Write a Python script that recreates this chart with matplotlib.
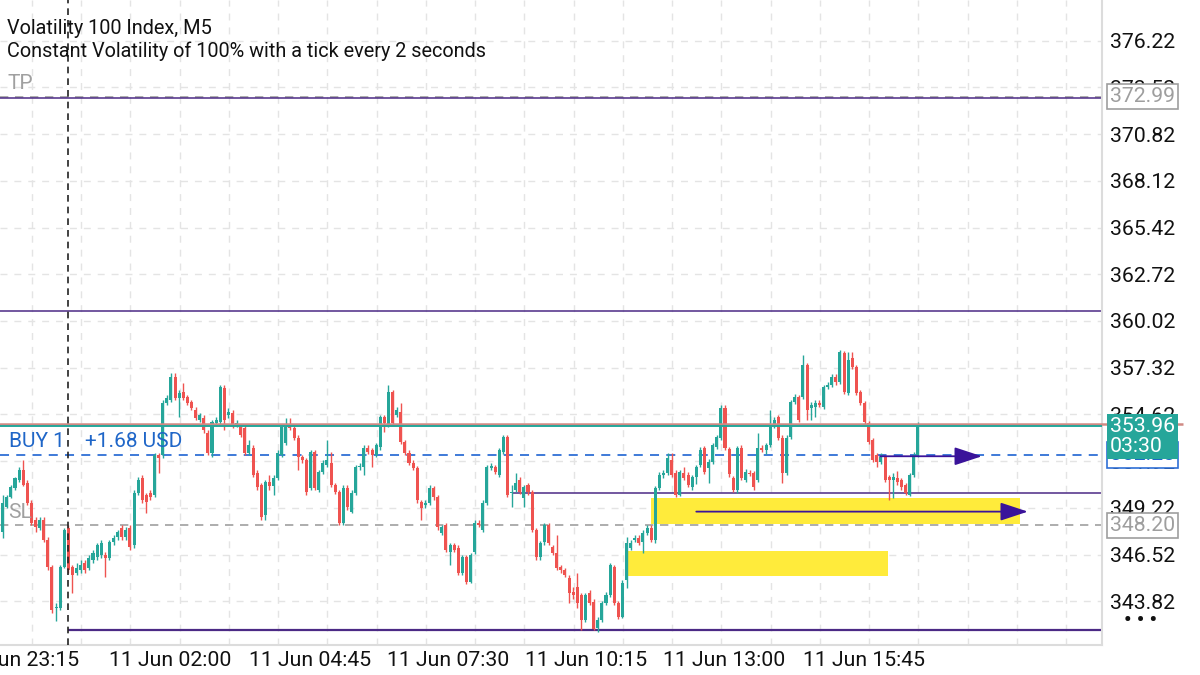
import numpy as np
import matplotlib
matplotlib.use("Agg")
import matplotlib.pyplot as plt
import matplotlib.transforms as mtransforms

plt.rcParams['font.family'] = ['Roboto', 'DejaVu Sans']

# ---- data (Volatility 100 Index, M5 candles) ----
opens = [
    347.82, 349.27, 349.84, 350.37, 350.83, 351.40, 350.66, 349.50, 348.51, 348.05,
    348.51, 347.36, 345.80, 343.43, 343.43, 345.80, 348.05, 345.80, 345.45, 345.62,
    346.03, 345.74, 346.20, 346.38, 346.49, 346.49, 346.32, 347.24, 347.53, 348.05,
    347.53, 348.05, 347.07, 350.08, 350.94, 349.96, 350.08, 349.96, 352.27, 352.27,
    355.28, 355.45, 356.78, 355.57, 355.92, 355.63, 355.34, 354.87, 354.30, 354.41,
    353.54, 352.39, 354.12, 354.18, 356.15, 354.59, 354.70, 354.01, 353.89, 353.83,
    352.39, 352.68, 351.23, 350.54, 348.80, 350.71, 350.48, 350.94, 352.27, 352.97,
    353.89, 353.83, 353.26, 352.16, 351.98, 350.37, 352.45, 350.25, 351.29, 351.69,
    351.81, 350.54, 350.13, 348.34, 350.37, 348.98, 350.08, 351.58, 351.58, 352.68,
    352.56, 352.27, 352.74, 354.47, 354.01, 355.92, 354.59, 354.76, 353.03, 352.39,
    351.81, 351.52, 349.56, 349.38, 349.50, 350.37, 349.84, 347.76, 348.23, 346.67,
    347.07, 346.90, 345.45, 346.38, 344.93, 346.67, 348.34, 347.94, 349.50, 351.52,
    351.58, 351.12, 352.45, 353.31, 350.08, 350.25, 350.83, 349.79, 350.54, 350.13,
    347.94, 346.38, 347.24, 348.23, 346.95, 346.61, 345.80, 345.62, 345.16, 344.35,
    344.64, 344.18, 342.74, 344.30, 343.78, 342.27, 342.74, 343.72, 344.18, 345.80,
    343.72, 342.91, 345.05, 346.90, 347.36, 347.47, 347.24, 347.76, 348.05, 347.36,
    350.37, 351.12, 351.23, 351.98, 351.23, 349.96, 351.23, 351.12, 350.42, 351.00,
    351.69, 352.68, 351.52, 351.87, 352.74, 353.26, 354.99, 352.62, 350.94, 350.25,
    352.68, 350.83, 351.23, 351.23, 350.83, 352.68, 352.56, 352.85, 353.95, 354.47,
    353.26, 351.23, 353.31, 355.34, 355.63, 355.63, 357.47, 354.99, 355.05, 355.28,
    355.05, 356.20, 356.32, 356.78, 356.49, 358.17, 355.86, 357.88, 357.36, 355.92,
    355.28, 354.12, 353.14, 352.27, 351.87, 352.16, 351.00, 350.83, 350.94, 350.83,
    350.54, 349.96, 351.12, 352.27,
]
highs = [
    349.96, 349.96, 350.54, 351.00, 351.58, 351.98, 350.83, 349.67, 348.69, 348.69,
    348.69, 347.53, 345.91, 343.72, 345.91, 348.05, 348.23, 345.91, 346.03, 346.20,
    346.20, 346.49, 346.78, 347.19, 347.36, 346.67, 347.36, 347.65, 347.94, 348.23,
    348.11, 348.23, 350.25, 351.00, 351.12, 350.08, 350.25, 352.39, 352.39, 355.45,
    355.74, 357.01, 357.01, 356.03, 356.43, 355.74, 355.45, 355.05, 354.70, 354.59,
    353.72, 354.30, 354.47, 356.32, 356.32, 354.99, 354.87, 354.30, 354.07, 354.01,
    353.14, 352.85, 351.40, 350.66, 350.83, 351.12, 351.12, 352.56, 354.01, 354.41,
    354.41, 354.07, 353.43, 352.27, 352.10, 352.56, 352.56, 351.40, 351.98, 353.14,
    352.45, 350.66, 350.25, 350.54, 350.54, 350.25, 351.69, 351.81, 352.85, 352.85,
    352.68, 352.97, 354.59, 354.59, 356.32, 356.03, 355.05, 355.28, 353.14, 352.56,
    351.98, 351.64, 349.67, 349.67, 350.54, 350.48, 349.96, 348.23, 348.34, 347.19,
    347.19, 347.07, 346.49, 346.49, 346.61, 348.51, 348.51, 349.67, 351.69, 351.81,
    351.69, 352.68, 353.43, 353.43, 350.54, 351.23, 351.00, 350.54, 350.66, 350.25,
    348.05, 347.30, 348.34, 348.34, 347.07, 347.65, 345.91, 345.74, 345.34, 344.64,
    345.45, 344.30, 344.30, 344.47, 343.95, 342.91, 343.84, 344.35, 346.03, 345.91,
    343.84, 345.05, 347.53, 347.36, 347.65, 347.65, 347.94, 348.23, 348.23, 350.48,
    351.29, 351.40, 352.39, 352.39, 351.40, 351.40, 351.58, 351.29, 351.12, 351.69,
    352.74, 352.80, 352.04, 352.97, 353.43, 355.16, 355.16, 352.74, 351.06, 352.80,
    352.85, 351.46, 351.40, 351.35, 353.54, 352.85, 352.97, 354.87, 354.47, 354.59,
    353.43, 353.43, 355.45, 355.80, 355.74, 358.05, 357.59, 355.34, 355.45, 355.45,
    356.32, 356.49, 356.95, 356.95, 358.34, 358.28, 358.22, 358.22, 357.47, 356.03,
    355.40, 354.24, 353.26, 352.39, 352.39, 352.27, 351.12, 351.23, 351.35, 350.94,
    350.66, 351.23, 352.45, 354.18,
]
lows = [
    347.47, 349.21, 349.79, 350.25, 350.71, 350.48, 349.38, 348.23, 347.82, 347.94,
    347.24, 345.62, 343.14, 342.65, 343.32, 345.74, 345.45, 344.30, 345.34, 345.45,
    345.45, 345.62, 346.03, 346.20, 346.32, 345.22, 346.20, 347.07, 347.36, 347.36,
    347.36, 346.78, 346.90, 349.96, 349.50, 348.92, 349.67, 349.84, 351.23, 352.10,
    355.16, 355.34, 355.45, 354.47, 355.45, 355.16, 354.87, 354.30, 354.18, 353.54,
    352.27, 352.16, 353.95, 354.01, 353.72, 354.41, 353.83, 353.89, 353.31, 352.27,
    352.27, 351.00, 350.25, 348.51, 348.51, 350.25, 349.96, 350.83, 352.16, 352.85,
    353.72, 353.14, 351.40, 351.81, 349.96, 350.25, 350.25, 350.13, 351.17, 351.58,
    350.42, 350.02, 348.23, 348.23, 349.10, 348.92, 349.96, 351.40, 351.12, 352.33,
    351.58, 352.16, 352.56, 353.60, 353.89, 354.01, 354.47, 352.91, 352.27, 351.69,
    351.40, 349.50, 348.51, 349.21, 349.38, 349.67, 347.94, 347.65, 346.67, 345.91,
    346.67, 345.34, 345.34, 344.80, 344.87, 346.55, 348.11, 347.82, 349.38, 351.40,
    351.17, 351.00, 352.33, 349.84, 349.27, 350.13, 350.02, 349.27, 349.96, 347.82,
    346.20, 346.20, 347.07, 347.07, 346.49, 345.62, 345.45, 345.22, 343.72, 343.95,
    343.43, 342.16, 342.62, 343.60, 342.16, 342.04, 342.62, 343.60, 344.07, 343.60,
    342.79, 342.85, 344.58, 346.78, 347.24, 347.07, 346.61, 347.65, 347.24, 347.19,
    350.25, 350.94, 351.12, 351.00, 349.84, 349.90, 350.83, 350.42, 350.25, 350.60,
    351.58, 351.17, 350.66, 351.75, 352.62, 353.14, 352.56, 351.00, 350.13, 350.08,
    350.83, 350.71, 351.06, 350.25, 350.71, 352.45, 352.33, 352.74, 353.83, 353.14,
    350.66, 351.12, 353.20, 355.22, 354.18, 355.50, 354.30, 354.30, 354.47, 355.05,
    354.93, 356.09, 356.20, 356.32, 356.37, 355.80, 355.74, 357.24, 355.74, 355.16,
    354.07, 352.91, 351.87, 351.58, 351.75, 350.71, 349.67, 349.79, 350.54, 350.25,
    349.96, 349.90, 351.00, 352.16,
]
closes = [
    349.50, 349.84, 350.42, 350.94, 351.40, 350.54, 349.50, 348.34, 348.11, 348.51,
    347.36, 345.80, 343.32, 343.49, 345.80, 347.94, 345.62, 345.34, 345.74, 345.91,
    345.62, 346.32, 346.61, 347.07, 347.19, 346.32, 347.24, 347.47, 347.82, 347.53,
    347.94, 346.95, 350.08, 350.83, 349.67, 349.56, 349.84, 352.27, 352.10, 355.28,
    355.57, 356.78, 355.57, 355.86, 355.57, 355.28, 354.99, 354.41, 354.59, 353.72,
    352.39, 354.18, 354.30, 356.20, 354.30, 354.76, 354.01, 354.12, 353.43, 352.39,
    352.85, 351.12, 350.42, 348.69, 350.71, 350.48, 350.94, 352.39, 353.89, 353.89,
    353.83, 353.26, 352.16, 351.98, 350.13, 352.45, 350.37, 351.29, 351.81, 351.98,
    350.54, 350.13, 348.34, 350.37, 349.27, 350.08, 351.58, 351.64, 352.68, 352.45,
    352.27, 352.85, 354.47, 354.12, 355.92, 354.12, 354.87, 353.03, 352.39, 351.81,
    351.52, 349.67, 349.21, 349.50, 350.37, 349.84, 348.11, 348.11, 346.78, 347.07,
    346.78, 345.45, 346.38, 344.93, 346.49, 348.34, 348.23, 349.50, 351.58, 351.64,
    351.29, 352.56, 353.31, 349.96, 350.13, 350.66, 350.13, 350.42, 350.13, 347.94,
    346.38, 347.19, 348.23, 347.19, 346.61, 345.74, 345.62, 345.34, 344.30, 344.18,
    343.72, 342.74, 344.18, 343.72, 342.21, 342.74, 343.72, 344.18, 345.91, 343.72,
    342.91, 344.87, 347.19, 347.19, 347.47, 347.19, 347.76, 348.05, 347.36, 350.37,
    351.12, 351.23, 352.10, 351.12, 349.96, 351.29, 350.94, 350.54, 351.00, 351.58,
    352.56, 351.29, 351.87, 352.85, 353.31, 354.99, 352.68, 351.17, 350.25, 352.68,
    350.94, 351.29, 351.17, 350.42, 352.68, 352.56, 352.85, 354.01, 354.30, 353.26,
    351.23, 353.26, 355.34, 355.63, 354.30, 357.47, 354.87, 355.16, 355.28, 355.16,
    356.20, 356.32, 356.78, 356.49, 358.22, 355.92, 357.76, 357.36, 355.86, 355.28,
    354.18, 353.03, 351.98, 351.87, 352.16, 350.83, 350.83, 351.00, 350.71, 350.42,
    350.08, 351.12, 352.27, 353.96,
]

price_ticks = [376.22, 373.52, 370.82, 368.12, 365.42, 362.72, 360.02,
               357.32, 354.62, 351.92, 349.22, 346.52, 343.82]
time_labels = ["10 Jun 23:15", "11 Jun 02:00", "11 Jun 04:45", "11 Jun 07:30",
               "11 Jun 10:15", "11 Jun 13:00", "11 Jun 15:45"]

tp_price = 372.99
sl_price = 348.20
entry_price = 352.28
bid_price = 353.96
ask_price = 354.08
profit_usd = 1.68
countdown = "03:30"
level_high = 360.60
level_mid = 350.08
level_low = 342.16

# drawn objects on the chart (candle index, candle index, price, price)
zones = [(158, 248, 348.30, 349.80), (152, 215.7, 345.30, 346.74)]
arrows = [(169, 249.8, 349.00), (213.8, 238.6, 352.20)]

# ---- figure ----
W, H = 1200, 675
fig = plt.figure(figsize=(12, 6.75), dpi=100)
ax = fig.add_axes([0, 30 / H, 1102 / W, 645 / H])

n = len(closes)
idx = np.arange(n)
o = np.array(opens)
h = np.array(highs)
l = np.array(lows)
c = np.array(closes)
bull, bear = '#26a69a', '#ef5350'
colors = np.where(c >= o, bull, bear)

# grid
for p in price_ticks:
    ax.axhline(p, color='#e4e4e4', lw=1, ls=(0, (5, 5)), zorder=0)
for gx in np.arange(7.1, 268, 12.0):
    ax.axvline(gx, color='#e4e4e4', lw=1, ls=(0, (5, 5)), zorder=0)

# zones
for x0, x1, y0, y1 in zones:
    ax.fill_between([x0, x1], y0, y1, color='#ffeb3b', lw=0, zorder=1)

# candles
ax.vlines(idx, l, h, colors=colors, lw=1.0, zorder=3)
ax.bar(idx, np.maximum(np.abs(c - o), 0.05), bottom=np.minimum(o, c),
       width=0.74, color=colors, linewidth=0, zorder=3)

# horizontal levels
purple = '#4b2a85'
ax.axhline(tp_price, color='#a0a0a0', lw=1.2, ls=(0, (5, 4)), zorder=2)
ax.axhline(tp_price - 0.06, color=purple, lw=1.1, zorder=2)
ax.axhline(level_high, color=purple, lw=1.1, zorder=2)
ax.hlines(level_mid, 124, 300, color=purple, lw=1.1, zorder=2)
ax.hlines(level_low, 16, 300, color=purple, lw=1.6, zorder=2)
ax.axhline(sl_price, color='#a0a0a0', lw=1.2, ls=(0, (5, 4)), zorder=2)
ax.axhline(entry_price, color='#2f6fd6', lw=1.3, ls=(0, (5, 4)), zorder=2)
ax.hlines(ask_price, -1, 287.6, color='#d08a84', lw=1.8, zorder=4, clip_on=False)
ax.axhline(bid_price, color='#26a69a', lw=1.4, zorder=4)

# day separator
ax.axvline(16, color='#222222', lw=1.2, ls=(0, (4, 3)), zorder=5)

# arrows
for x0, x1, y in arrows:
    ax.annotate('', xy=(x1, y), xytext=(x0, y),
                arrowprops=dict(arrowstyle='-|>,head_length=1.0,head_width=0.33',
                                color='#3a139a', lw=1.3, mutation_scale=17,
                                shrinkA=0, shrinkB=0), zorder=6)

ax.set_xlim(-2.7 / 4.104, (1102 - 2.7) / 4.104)
ax.set_ylim(341.29, 378.573)

# axes cosmetics
for s in ['top', 'left']:
    ax.spines[s].set_visible(False)
for s in ['right', 'bottom']:
    ax.spines[s].set_color('#dcdcdc')
    ax.spines[s].set_linewidth(1.5)
ax.yaxis.tick_right()
ax.set_yticks(price_ticks)
ax.set_yticklabels([f'{p:.2f}' for p in price_ticks])
ax.tick_params(axis='y', length=0, pad=6, labelsize=15.3, labelcolor='#111111')
ax.set_xticks([3.73, 40.77, 74.9, 108.5, 142.1, 175.8, 209.9])
ax.set_xticklabels(time_labels)
ax.tick_params(axis='x', length=0, pad=4, labelsize=15.3, labelcolor='#111111')

# chart texts
blend = mtransforms.blended_transform_factory(ax.transAxes, ax.transData)
up13 = mtransforms.offset_copy(blend, fig=fig, y=13, units='dots')
ax.text(8 / 1102, tp_price, 'TP', transform=up13, va='center', ha='left',
        fontsize=15, color='#a0a0a0')
ax.text(8 / 1102, sl_price, 'SL', transform=up13, va='center', ha='left',
        fontsize=15, color='#a0a0a0')
ax.text(9 / 1102, entry_price, 'BUY 1', transform=up13, va='center', ha='left',
        fontsize=15, color='#1f66c8', zorder=7)
ax.text(85 / 1102, entry_price, f'+{profit_usd:.2f} USD', transform=up13,
        va='center', ha='left', fontsize=15, color='#1f66c8', zorder=7)

fig.text(7 / W, 1 - 28 / H, 'Volatility 100 Index, M5', fontsize=14.3,
         va='center', ha='left', color='#111111')
fig.text(7 / W, 1 - 51 / H, 'Constant Volatility of 100% with a tick every 2 seconds',
         fontsize=14.3, va='center', ha='left', color='#111111')

# price boxes on the right
fblend = mtransforms.blended_transform_factory(fig.transFigure, ax.transData)
box_x = 1110 / W
fig.text(box_x, tp_price, f'{tp_price:.2f}', transform=fblend, va='center', ha='left',
         fontsize=15.3, color='#9e9e9e', zorder=5,
         bbox=dict(boxstyle='square,pad=0.15', fc='white', ec='#9e9e9e', lw=1.2))
fig.text(box_x, sl_price, f'{sl_price:.2f}', transform=fblend, va='center', ha='left',
         fontsize=15.3, color='#9e9e9e', zorder=5,
         bbox=dict(boxstyle='square,pad=0.15', fc='white', ec='#9e9e9e', lw=1.2))
fig.text(box_x, entry_price, f'{entry_price:.2f}', transform=fblend, va='center',
         ha='left', fontsize=15.3, color='#1f66c8', zorder=5,
         bbox=dict(boxstyle='square,pad=0.15', fc='white', ec='#2f6fd6', lw=1.2))
down11 = mtransforms.offset_copy(fblend, fig=fig, y=-11, units='dots')
fig.text(box_x, bid_price, f'{bid_price:.2f}\n{countdown}', transform=down11,
         va='center', ha='left', fontsize=15.3, color='white', zorder=6,
         linespacing=1.05,
         bbox=dict(boxstyle='square,pad=0.15', fc='#26a69a', ec='#26a69a', lw=0))
fig.text(1141 / W, 1 - 621 / H, '• • •', fontsize=15, va='center', ha='center',
         color='#111111', fontweight='bold')

fig.savefig('out.png', dpi=100, facecolor='white')
